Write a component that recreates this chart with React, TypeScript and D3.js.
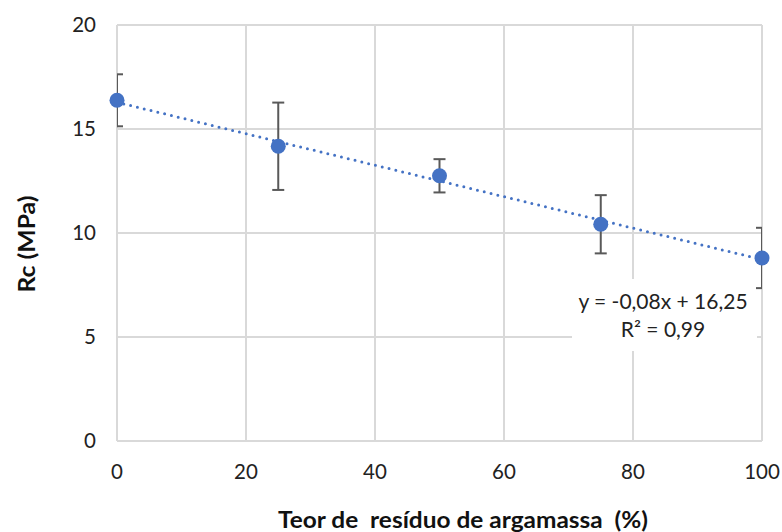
import React from "react";
import * as d3 from "d3";

const xValues = [0, 25, 50, 75, 100];
const yValues = [16.38, 14.17, 12.75, 10.42, 8.8];
const errValues = [1.25, 2.1, 0.8, 1.4, 1.45];
const xTicks = [0, 20, 40, 60, 80, 100];
const yTicks = [0, 5, 10, 15, 20];
const eqLines = ["y = -0,08x + 16,25", "R² = 0,99"];

const W = 782, H = 532;
const m = { left: 117, right: 762, top: 25, bottom: 441 };

export default function App() {
  const x = d3.scaleLinear().domain([0, 100]).range([m.left, m.right]);
  const y = d3.scaleLinear().domain([0, 20]).range([m.bottom, m.top]);
  const n = xValues.length;
  const mx = d3.mean(xValues)!, my = d3.mean(yValues)!;
  let sxy = 0, sxx = 0;
  for (let i = 0; i < n; i++) { sxy += (xValues[i] - mx) * (yValues[i] - my); sxx += (xValues[i] - mx) ** 2; }
  const slope = sxy / sxx, icpt = my - slope * mx;
  const line = d3.line<number>().x(d => x(d)).y(d => y(icpt + slope * d));
  const font = "Lato, 'Open Sans', sans-serif";
  return (
    <svg width={W} height={H} style={{ position: "absolute", left: 0, top: 0, background: "#fff" }}>
      <defs>
        <clipPath id="pc"><rect x={m.left} y={m.top - 10} width={m.right - m.left} height={m.bottom - m.top + 20} /></clipPath>
      </defs>
      <rect width={W} height={H} fill="#fff" />
      {yTicks.map(t => (
        <line key={"gy" + t} x1={m.left} x2={m.right} y1={y(t)} y2={y(t)} stroke="#d9d9d9" strokeWidth={2} />
      ))}
      {xTicks.map(t => (
        <line key={"gx" + t} x1={x(t)} x2={x(t)} y1={m.top} y2={m.bottom} stroke="#d9d9d9" strokeWidth={2} />
      ))}
      <rect x={572} y={279} width={185} height={72} fill="#fff" />
      <g clipPath="url(#pc)">
        {xValues.map((xv, i) => {
          const cx = x(xv), t = y(yValues[i] + errValues[i]), b = y(yValues[i] - errValues[i]);
          return (
            <g key={"e" + i} stroke="#595959" strokeWidth={2}>
              <line x1={cx} x2={cx} y1={t} y2={b} />
              <line x1={cx - 6} x2={cx + 6} y1={t} y2={t} />
              <line x1={cx - 6} x2={cx + 6} y1={b} y2={b} />
            </g>
          );
        })}
      </g>
      <path d={line([0, 100])!} fill="none" stroke="#4472c4" strokeWidth={3} strokeDasharray="0 7" strokeLinecap="round" />
      {xValues.map((xv, i) => (
        <circle key={"p" + i} cx={x(xv)} cy={y(yValues[i])} r={7.5} fill="#4472c4" />
      ))}
      {yTicks.map(t => (
        <text key={"ty" + t} x={96} y={y(t)} dy="0.35em" textAnchor="end" fontFamily={font} fontSize={20.5} fill="#222">{t}</text>
      ))}
      {xTicks.map(t => (
        <text key={"tx" + t} x={x(t)} y={472} dy="0.35em" textAnchor="middle" fontFamily={font} fontSize={20.5} fill="#222">{t}</text>
      ))}
      {eqLines.map((s, i) => (
        <text key={"eq" + i} x={663} y={302 + i * 28} dy="0.35em" textAnchor="middle" fontFamily={font} fontSize={21} fill="#222">{s}</text>
      ))}
      <text x={463} y={520} dy="0.35em" textAnchor="middle" fontFamily={font} fontSize={22} fontWeight="bold" fill="#111" style={{ whiteSpace: "pre" }} textLength={370} lengthAdjust="spacingAndGlyphs">Teor de  resíduo de argamassa  (%)</text>
      <text transform={`translate(27,244) rotate(-90)`} dy="0.35em" textAnchor="middle" fontFamily={font} fontSize={22} fontWeight="bold" fill="#111" textLength={97} lengthAdjust="spacingAndGlyphs">Rc (MPa)</text>
    </svg>
  );
}
